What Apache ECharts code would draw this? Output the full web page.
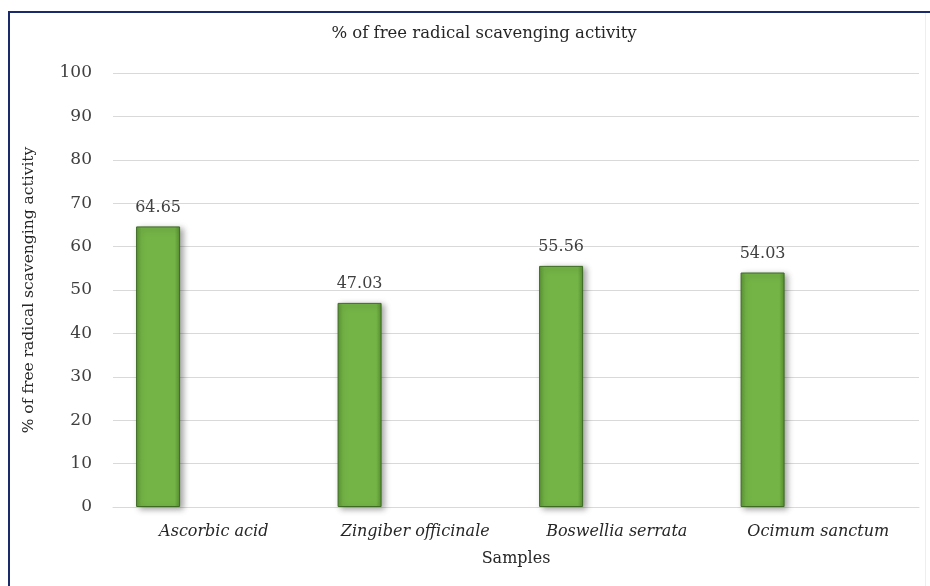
<!DOCTYPE html>
<html>
<head>
<meta charset="utf-8">
<script src="https://cdn.jsdelivr.net/npm/echarts@6/dist/echarts.min.js"></script>
<style>
  html, body { margin: 0; padding: 0; background: #fff; }
  #frame { position: relative; width: 930px; height: 586px; overflow: hidden; }
  #frame .edge-top { position: absolute; left: 8px; top: 11px; width: 922px; height: 2px; background: #1b2a6b; z-index: 2; }
  #frame .edge-left { position: absolute; left: 8px; top: 11px; width: 2px; height: 575px; background: #1b2a6b; z-index: 2; }
  #frame .edge-right { position: absolute; left: 925px; top: 13px; width: 1px; height: 573px; background: #eeeeee; z-index: 2; }
  #chart { width: 930px; height: 586px; }
</style>
</head>
<body>
<div id="frame">
  <div class="edge-top"></div>
  <div class="edge-left"></div>
  <div class="edge-right"></div>
  <div id="chart"></div>
</div>
<script>
// Samples tested and their scavenging activity (%)
const categories = ['Ascorbic acid', 'Zingiber officinale', 'Boswellia serrata', 'Ocimum sanctum'];
const activity = [64.65, 47.03, 55.56, 54.03];
const yTicks = { min: 0, max: 100, interval: 10 };

const serif = 'DejaVu Serif';
const chart = echarts.init(document.getElementById('chart'), null, { renderer: 'canvas' });

const barFill = new echarts.graphic.LinearGradient(0, 0, 1, 0, [
  { offset: 0, color: '#5a9534' },
  { offset: 0.12, color: '#74b446' },
  { offset: 0.88, color: '#74b446' },
  { offset: 1, color: '#568f30' }
]);

chart.setOption({
  animation: false,
  backgroundColor: '#ffffff',
  title: {
    text: '% of free radical scavenging activity',
    left: 479,
    top: 20,
    textAlign: 'center',
    textStyle: { fontFamily: serif, fontSize: 16.5, fontWeight: 'normal', color: '#262626' }
  },
  grid: { left: 113, right: 11, top: 73, bottom: 79 },
  xAxis: {
    type: 'category',
    data: categories,
    name: 'Samples',
    nameLocation: 'middle',
    nameGap: 44,
    nameTextStyle: { fontFamily: serif, fontSize: 16, color: '#262626' },
    axisLine: { lineStyle: { color: '#d9d9d9', width: 1 } },
    axisTick: { show: false },
    axisLabel: { fontFamily: serif, fontStyle: 'italic', fontSize: 16, color: '#262626', margin: 17 }
  },
  yAxis: {
    type: 'value',
    min: yTicks.min,
    max: yTicks.max,
    interval: yTicks.interval,
    name: '% of free radical scavenging activity',
    nameLocation: 'middle',
    nameGap: 76,
    nameRotate: 90,
    nameTextStyle: { fontFamily: serif, fontSize: 15.5, color: '#262626', padding: [0, 0, 0, 0] },
    axisLine: { show: false },
    axisTick: { show: false },
    axisLabel: { fontFamily: serif, fontSize: 17, color: '#404040', margin: 21 },
    splitLine: { lineStyle: { color: '#d9d9d9', width: 1 } }
  },
  series: [
    {
      type: 'bar',
      name: 'Activity',
      data: activity,
      barWidth: 44,
      barGap: '153%',
      itemStyle: {
        color: barFill,
        borderColor: '#3d6b23',
        borderWidth: 1,
        shadowColor: 'rgba(0,0,0,0.35)',
        shadowBlur: 6,
        shadowOffsetX: 3,
        shadowOffsetY: 2
      },
      label: {
        show: true,
        position: 'top',
        distance: 11,
        fontFamily: serif,
        fontSize: 16,
        color: '#404040'
      }
    },
    {
      type: 'bar',
      name: 'Reserved',
      data: [],
      barWidth: 44
    }
  ]
});
</script>
</body>
</html>
